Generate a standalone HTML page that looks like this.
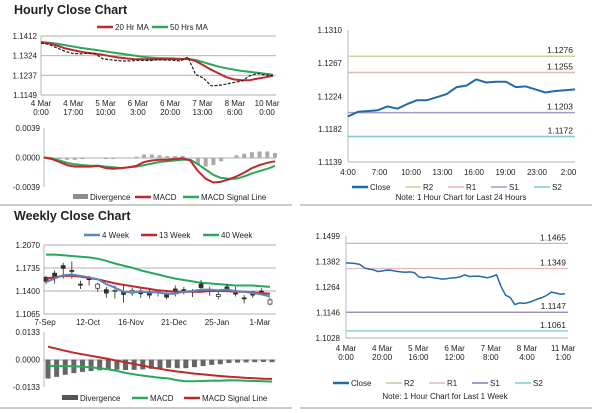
<!DOCTYPE html>
<html><head><meta charset="utf-8"><style>
body{margin:0;background:#fff;}
svg{display:block;font-family:"Liberation Sans",sans-serif;}
text{fill:#222;}
</style></head><body>
<svg id="c" width="600" height="413" viewBox="0 0 600 413">
<line x1="0" y1="205" x2="292" y2="205" stroke="#999"/>
<line x1="300" y1="205" x2="592" y2="205" stroke="#999"/>
<line x1="0" y1="408" x2="292" y2="408" stroke="#999"/>
<line x1="300" y1="408" x2="592" y2="408" stroke="#999"/>
<text x="14" y="14" font-size="12.5" font-weight="bold">Hourly Close Chart</text>
<text x="14" y="220" font-size="12.5" font-weight="bold">Weekly Close Chart</text>
</svg>
<script>
// ---------- data ----------
const hClose=[1.1380,1.1375,1.1360,1.1345,1.1335,1.1332,1.1335,1.1333,1.1310,1.1306,1.1302,1.1300,1.1302,1.1304,1.1302,1.1306,1.1305,1.1304,1.1300,1.1318,1.1240,1.1225,1.1190,1.1192,1.1198,1.1205,1.1212,1.1235,1.1245,1.1238,1.1235];
const hMa20=[1.1385,1.1380,1.1370,1.1358,1.1350,1.1343,1.1337,1.1333,1.1328,1.1322,1.1316,1.1312,1.1309,1.1308,1.1308,1.1308,1.1309,1.1309,1.1308,1.1310,1.1300,1.1282,1.1262,1.1245,1.1228,1.1218,1.1215,1.1215,1.1222,1.1228,1.1235];
const hMa50=[1.1385,1.1382,1.1378,1.1372,1.1366,1.1360,1.1355,1.1350,1.1345,1.1340,1.1335,1.1330,1.1325,1.1320,1.1316,1.1314,1.1313,1.1312,1.1311,1.1310,1.1305,1.1295,1.1285,1.1275,1.1268,1.1262,1.1256,1.1252,1.1248,1.1244,1.1240];
const hTicks=["1.1412","1.1324","1.1237","1.1149"];
const hXLabels=[["4 Mar","0:00"],["4 Mar","17:00"],["5 Mar","10:00"],["6 Mar","3:00"],["6 Mar","20:00"],["7 Mar","13:00"],["8 Mar","6:00"],["10 Mar","0:00"]];
const hMacd=[0,-0.0002,-0.0006,-0.0010,-0.0012,-0.0012,-0.0012,-0.0011,-0.0014,-0.0015,-0.0014,-0.0013,-0.0011,-0.0006,-0.0004,-0.0003,-0.0003,-0.0002,-0.0001,-0.0004,-0.0018,-0.0028,-0.0033,-0.0032,-0.0029,-0.0025,-0.0020,-0.0014,-0.0010,-0.0007,-0.0005];
const hSignal=[0,-0.0001,-0.0004,-0.0007,-0.0009,-0.0010,-0.0011,-0.0011,-0.0012,-0.0013,-0.0014,-0.0013,-0.0012,-0.0010,-0.0008,-0.0006,-0.0005,-0.0004,-0.0003,-0.0003,-0.0009,-0.0016,-0.0023,-0.0027,-0.0028,-0.0028,-0.0025,-0.0021,-0.0018,-0.0015,-0.0011];
const hDiv=[0,-0.0001,-0.0002,-0.0003,-0.0003,-0.0002,-0.0001,0,-0.0002,-0.0002,0,0,0.0001,0.0004,0.0004,0.0003,0.0002,0.0002,0.0002,-0.0001,-0.0009,-0.0012,-0.0010,-0.0005,-0.0001,0.0003,0.0005,0.0007,0.0008,0.0008,0.0006];
const hMacdTicks=["0.0039","0.0000","-0.0039"];

const dClose=[1.1198,1.1204,1.1205,1.1206,1.1211,1.1208,1.1214,1.1219,1.1219,1.1223,1.1227,1.1236,1.1238,1.1246,1.1242,1.1243,1.1243,1.1236,1.1237,1.1233,1.1229,1.1231,1.1232,1.1233];
const dLevels=[1.1276,1.1255,1.1203,1.1172];
const dLevelNames=["R2","R1","S1","S2"];
const dTicks=["1.1310","1.1267","1.1224","1.1182","1.1139"];
const dXLabels=["4:00","7:00","10:00","13:00","16:00","19:00","23:00","2:00"];

const wOpen=[1.154,1.161,1.173,1.170,1.150,1.158,1.150,1.137,1.141,1.135,1.141,1.136,1.134,1.139,1.131,1.139,1.142,1.140,1.145,1.141,1.135,1.143,1.137,1.130,1.134,1.140,1.127];
const wClose=[1.160,1.166,1.177,1.170,1.150,1.158,1.144,1.142,1.140,1.139,1.137,1.140,1.139,1.139,1.135,1.143,1.142,1.140,1.150,1.141,1.132,1.146,1.137,1.130,1.137,1.140,1.121];
const wHigh=[1.162,1.170,1.181,1.183,1.155,1.162,1.152,1.146,1.148,1.148,1.145,1.145,1.143,1.142,1.139,1.148,1.146,1.143,1.156,1.146,1.140,1.150,1.146,1.134,1.140,1.144,1.130];
const wLow=[1.150,1.151,1.158,1.158,1.143,1.148,1.139,1.130,1.129,1.123,1.133,1.130,1.129,1.132,1.128,1.132,1.135,1.131,1.139,1.133,1.128,1.138,1.132,1.122,1.130,1.136,1.119];
const w4=[1.153,1.158,1.163,1.164,1.162,1.160,1.157,1.150,1.145,1.139,1.138,1.139,1.138,1.138,1.136,1.136,1.139,1.140,1.142,1.142,1.141,1.142,1.140,1.139,1.137,1.135,1.132];
const w13=[1.158,1.160,1.162,1.162,1.161,1.159,1.157,1.154,1.151,1.149,1.147,1.145,1.143,1.141,1.140,1.139,1.139,1.139,1.139,1.140,1.140,1.140,1.139,1.139,1.138,1.137,1.136];
const w40=[1.193,1.193,1.192,1.191,1.190,1.189,1.187,1.184,1.180,1.177,1.174,1.170,1.167,1.164,1.161,1.158,1.156,1.154,1.152,1.151,1.150,1.149,1.148,1.148,1.148,1.147,1.146];
const wTicks=["1.2070","1.1735","1.1400","1.1065"];
const wXLabels=["7-Sep","12-Oct","16-Nov","21-Dec","25-Jan","1-Mar"];
const wSignal=[0.0062,0.0052,0.0042,0.0033,0.0025,0.0018,0.0010,0.0003,-0.0006,-0.0014,-0.0022,-0.0030,-0.0038,-0.0045,-0.0052,-0.0058,-0.0063,-0.0068,-0.0072,-0.0076,-0.0080,-0.0083,-0.0086,-0.0089,-0.0091,-0.0093,-0.0094];
const wMacd=[-0.0030,-0.0032,-0.0032,-0.0033,-0.0035,-0.0038,-0.0042,-0.0048,-0.0055,-0.0065,-0.0072,-0.0078,-0.0083,-0.0088,-0.0092,-0.0100,-0.0105,-0.0105,-0.0104,-0.0102,-0.0103,-0.0100,-0.0101,-0.0103,-0.0104,-0.0105,-0.0107];
const wDiv=[-0.0092,-0.0084,-0.0074,-0.0066,-0.0060,-0.0056,-0.0052,-0.0051,-0.0049,-0.0051,-0.0050,-0.0048,-0.0045,-0.0043,-0.0040,-0.0042,-0.0042,-0.0037,-0.0032,-0.0026,-0.0023,-0.0017,-0.0015,-0.0014,-0.0013,-0.0012,-0.0013];
const wMacdTicks=["0.0133","0.0000","-0.0133"];

const kClose=[1.1375,1.1374,1.1372,1.1368,1.1352,1.1346,1.1343,1.1335,1.1338,1.1342,1.1340,1.1336,1.1333,1.1332,1.1333,1.1330,1.1310,1.1306,1.1310,1.1307,1.1304,1.1300,1.1302,1.1305,1.1306,1.1310,1.1320,1.1312,1.1313,1.1314,1.1310,1.1306,1.1312,1.1320,1.1265,1.1225,1.1215,1.1182,1.1190,1.1188,1.1192,1.1200,1.1208,1.1215,1.1225,1.1240,1.1236,1.1230,1.1232];
const kLevels=[1.1465,1.1349,1.1147,1.1061];
const kTicks=["1.1499","1.1382","1.1264","1.1146","1.1028"];
const kXLabels=[["4 Mar","0:00"],["4 Mar","20:00"],["5 Mar","16:00"],["6 Mar","12:00"],["7 Mar","8:00"],["8 Mar","4:00"],["11 Mar","1:00"]];

// ---------- helpers ----------
const S="http://www.w3.org/2000/svg", svg=document.getElementById('c');
function mk(tag,attrs,name){const el=document.createElementNS(S,tag);for(const k in attrs)el.setAttribute(k,attrs[k]);


svg.appendChild(el);return el;}
function txt(x,y,s,name,anchor,size){const t=mk('text',{x:x,y:y,'font-size':size||8,'text-anchor':anchor||'start'},name);t.textContent=s;return t;}
function lin(x1,y1,x2,y2,col,w,name){return mk('line',{x1:x1,y1:y1,x2:x2,y2:y2,stroke:col,'stroke-width':w||1},name);}
function lscale(d0,d1,r0,r1){return v=>r0+(v-d0)/(d1-d0)*(r1-r0);}
function poly(arr,xs,ys,col,w,name){mk('polyline',{points:arr.map((v,i)=>xs(i).toFixed(1)+','+ys(v).toFixed(1)).join(' '),fill:'none',stroke:col,'stroke-width':w,'stroke-linejoin':'round'},name);}
function legLine(x,y,col,label,name,w){lin(x,y,x+16,y,col,w||2.5,name+'-swatch');txt(x+18,y+3,label,name,'start',8);}
const RED='#c0282d',GRN='#2aa85a',GRY='#8c8c8c';

// ---------- hourly price ----------
{const X0=41,X1=273,Y0=36,Y1=95;
const ys=lscale(1.1412,1.1149,Y0,Y1),xs=lscale(0,hClose.length-1,X0,X1);
hTicks.forEach(t=>{const y=ys(+t);lin(X0,y,276,y,'#999',0.7,'hourly-gridline');txt(X0-4,y+3,t,'hourly-y-tick','end');});
lin(X0,Y0,X0,Y1,'#999',0.7,'hourly-y-axis');
hXLabels.forEach((l,i)=>{const x=X0+i*32.3;txt(x,106,l[0],'hourly-x-tick','middle');txt(x,115,l[1],'hourly-x-tick','middle');});
poly(hMa50,xs,ys,GRN,2,'hourly-50hr-ma');
poly(hMa20,xs,ys,RED,2,'hourly-20hr-ma');
mk('polyline',{points:hClose.map((v,i)=>xs(i).toFixed(1)+','+ys(v).toFixed(1)).join(' '),fill:'none',stroke:'#222','stroke-width':1.2,'stroke-dasharray':'3,1.5'},'hourly-close');
legLine(97,27,RED,'20 Hr MA','legend-20hr-ma');legLine(152,27,GRN,'50 Hrs MA','legend-50hr-ma');
// macd
const my=lscale(0.0039,-0.0039,128,187),mx=lscale(0,hMacd.length-1,44,275);
hMacdTicks.forEach(t=>{txt(40,my(+t)+3,t,'hourly-macd-y-tick','end');});
lin(44,128,44,187,'#999',0.7,'hourly-macd-y-axis');lin(44,158,276,158,'#999',0.7,'hourly-macd-zero');
hDiv.forEach((v,i)=>{const y=my(v),z=my(0);mk('rect',{x:mx(i)-2,y:Math.min(y,z),width:4,height:Math.max(0.5,Math.abs(y-z)),fill:'#aaa'},'hourly-divergence-bar');});
poly(hSignal,mx,my,GRN,2,'hourly-macd-signal');
poly(hMacd,mx,my,RED,2,'hourly-macd');
mk('rect',{x:73,y:194,width:15,height:5,fill:GRY},'legend-divergence-swatch');txt(90,200,'Divergence','legend-divergence');
legLine(135,197,RED,'MACD','legend-macd');legLine(183,197,GRN,'MACD Signal Line','legend-macd-signal');}

// ---------- daily (right top) ----------
{const X0=348,X1=575;const ys=lscale(1.1310,1.1139,30,162),xs=lscale(0,dClose.length-1,X0,X1);
dTicks.forEach(t=>txt(X0-6,ys(+t)+3,t,'daily-y-tick','end',8));
lin(X0,30,X0,162,'#999',0.7,'daily-y-axis');lin(X0,162,X1,162,'#999',0.7,'daily-x-axis');
dXLabels.forEach((l,i)=>txt(X0+i*31.5,175,l,'daily-x-tick','middle'));
const cols=['#c3d69b','#e6b9b8','#a898c4','#7fc6d6'];
dLevels.forEach((v,i)=>{lin(X0,ys(v),X1,ys(v),cols[i],1.5,'daily-'+dLevelNames[i].toLowerCase()+'-line');txt(X1-2,ys(v)-3,v.toFixed(4),'daily-'+dLevelNames[i].toLowerCase()+'-label','end',8.5);});
poly(dClose,xs,ys,'#1f6bab',2,'daily-close');
legLine(352,187,'#1f6bab','Close','legend-daily-close');
['R2','R1','S1','S2'].forEach((n,i)=>legLine(405+i*43,187,cols[i],n,'legend-daily-'+n.toLowerCase(),1.5));
txt(461,200,'Note: 1 Hour Chart for Last 24 Hours','daily-note','middle',8);}

// ---------- weekly ----------
{const X0=44,X1=270;const ys=lscale(1.2070,1.1065,245,314),xs=lscale(0,wClose.length-1,X0+2,X1);
wTicks.forEach(t=>{const y=ys(+t);lin(X0,y,276,y,'#999',0.7,'weekly-gridline');txt(X0-4,y+3,t,'weekly-y-tick','end');});
lin(X0,245,X0,314,'#999',0.7,'weekly-y-axis');
wXLabels.forEach((l,i)=>txt(X0+1+i*43,325,l,'weekly-x-tick','middle'));
poly(w40,xs,ys,GRN,2,'weekly-40wk-ma');
wClose.forEach((c,i)=>{const x=xs(i);lin(x,ys(wHigh[i]),x,ys(wLow[i]),'#222',0.8,'weekly-candle-wick');
const o=wOpen[i],t=ys(Math.max(o,c)),b=ys(Math.min(o,c));mk('rect',{x:x-2,y:t,width:4,height:Math.max(1,b-t),fill:c>=o?'#333':'#fff',stroke:'#222','stroke-width':0.7},'weekly-candle-body');});
poly(w13,xs,ys,RED,2,'weekly-13wk-ma');
poly(w4,xs,ys,'#5b86c0',2,'weekly-4wk-ma');
legLine(84,235,'#5b86c0','4 Week','legend-4wk');legLine(141,235,RED,'13 Week','legend-13wk');legLine(203,235,GRN,'40 Week','legend-40wk');
const my=lscale(0.0133,-0.0133,332,387),mx=lscale(0,wMacd.length-1,48,272);
wMacdTicks.forEach(t=>txt(40,my(+t)+3,t,'weekly-macd-y-tick','end'));
lin(44,332,44,387,'#999',0.7,'weekly-macd-y-axis');lin(44,360,276,360,'#999',0.7,'weekly-macd-zero');
wDiv.forEach((v,i)=>{const y=my(v),z=my(0);mk('rect',{x:mx(i)-2.5,y:Math.min(y,z),width:5,height:Math.abs(y-z),fill:'#666'},'weekly-divergence-bar');});
poly(wMacd,mx,my,GRN,2,'weekly-macd');
poly(wSignal,mx,my,RED,2,'weekly-macd-signal');
mk('rect',{x:62,y:395,width:16,height:5,fill:'#555'},'legend-weekly-divergence-swatch');txt(80,401,'Divergence','legend-weekly-divergence');
legLine(132,398,GRN,'MACD','legend-weekly-macd');legLine(184,398,RED,'MACD Signal Line','legend-weekly-macd-signal');}

// ---------- weekly hourly (right bottom) ----------
{const X0=346,X1=568;const ys=lscale(1.1499,1.1028,236,338),xs=lscale(0,kClose.length-1,X0,X1-3);
kTicks.forEach(t=>txt(X0-6,ys(+t)+3,t,'week-hourly-y-tick','end',8));
lin(X0,236,X0,338,'#999',0.7,'week-hourly-y-axis');lin(X0,338,X1,338,'#999',0.7,'week-hourly-x-axis');
kXLabels.forEach((l,i)=>{const x=X0+i*36.2;txt(x,351,l[0],'week-hourly-x-tick','middle');txt(x,360,l[1],'week-hourly-x-tick','middle');});
const cols=['#c8c09a','#e6b9b8','#8a7fb0','#7fc6d6'];
kLevels.forEach((v,i)=>{lin(X0,ys(v),X1,ys(v),cols[i],1.2,'week-hourly-'+dLevelNames[i].toLowerCase()+'-line');txt(X1-2,ys(v)-3,v.toFixed(4),'week-hourly-'+dLevelNames[i].toLowerCase()+'-label','end',8.5);});
poly(kClose,xs,ys,'#1f6bab',1.5,'week-hourly-close');
legLine(333,383,'#1f6bab','Close','legend-wh-close');
['R2','R1','S1','S2'].forEach((n,i)=>legLine(386+i*43,383,cols[i],n,'legend-wh-'+n.toLowerCase(),1.5));
txt(445,399,'Note: 1 Hour Chart for Last 1 Week','week-hourly-note','middle',8);}
</script>
</body></html>
